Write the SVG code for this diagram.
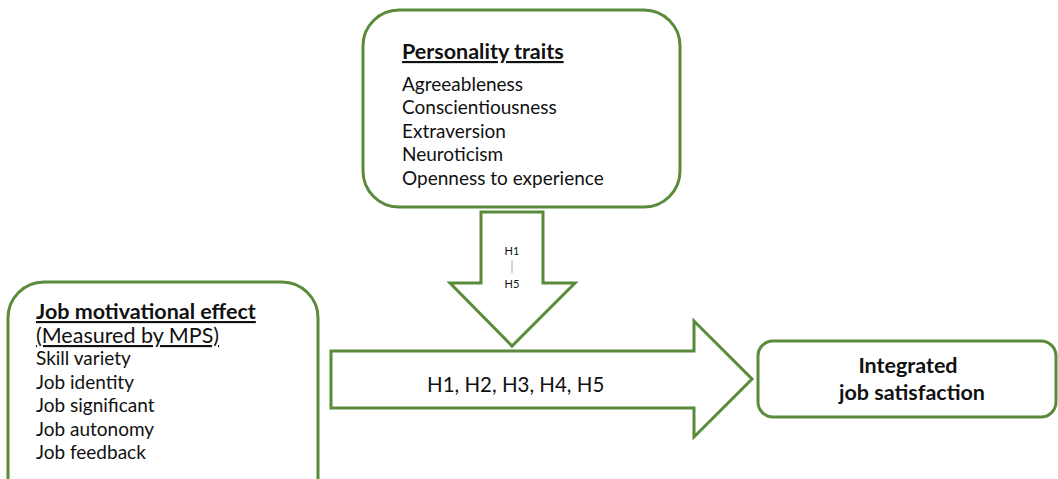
<svg xmlns="http://www.w3.org/2000/svg" width="1058" height="479" viewBox="0 0 1058 479">
<style>
.box{fill:#fff;stroke:#5a8a3a;stroke-width:3}
.arr{fill:#fff;stroke:#5a8a3a;stroke-width:3;stroke-linejoin:miter}
text{font-family:Lato,"Liberation Sans",sans-serif;fill:#111}
.t{font-size:19px}
.b{font-size:21.5px;font-weight:bold}
.u{text-decoration:underline}
.s{font-size:11px}
</style>
<rect width="1058" height="479" fill="#fff"/>
<g id="connectors">
<path class="arr" d="M481,212 H543 V283 H575 L512,346 L450,283 H481 Z"/>
<text class="s" x="512" y="255" text-anchor="middle">H1</text>
<line x1="512" y1="260" x2="512" y2="273" stroke="#aaa" stroke-width="1"/>
<text class="s" x="512" y="288" text-anchor="middle">H5</text>
<path class="arr" d="M331,351 H694 V321 L752,379 L694,437 V408 H331 Z"/>
<text class="t" x="427" y="392" style="font-size:20.5px">H1, H2, H3, H4, H5</text>
</g>
<g id="personality">
<rect class="box" x="363" y="10" width="317" height="197" rx="36"/>
<text class="b u" x="402" y="59">Personality traits</text>
<text class="t" x="402" y="91">Agreeableness</text>
<text class="t" x="402" y="114">Conscientiousness</text>
<text class="t" x="402" y="138">Extraversion</text>
<text class="t" x="402" y="161">Neuroticism</text>
<text class="t" x="402" y="185">Openness to experience</text>
</g>
<g id="job-motivation">
<rect class="box" x="8" y="282" width="310" height="240" rx="36"/>
<text class="b u" x="36" y="319">Job motivational effect</text>
<text class="t u" x="36" y="343" style="font-size:21.5px">(Measured by MPS)</text>
<text class="t" x="36" y="365">Skill variety</text>
<text class="t" x="36" y="389">Job identity</text>
<text class="t" x="36" y="412">Job significant</text>
<text class="t" x="36" y="436">Job autonomy</text>
<text class="t" x="36" y="459">Job feedback</text>
</g>
<g id="satisfaction">
<rect class="box" x="758" y="341" width="298" height="76" rx="15"/>
<text class="b" x="908" y="373" text-anchor="middle">Integrated</text>
<text class="b" x="912" y="400" text-anchor="middle">job satisfaction</text>
</g>
</svg>
